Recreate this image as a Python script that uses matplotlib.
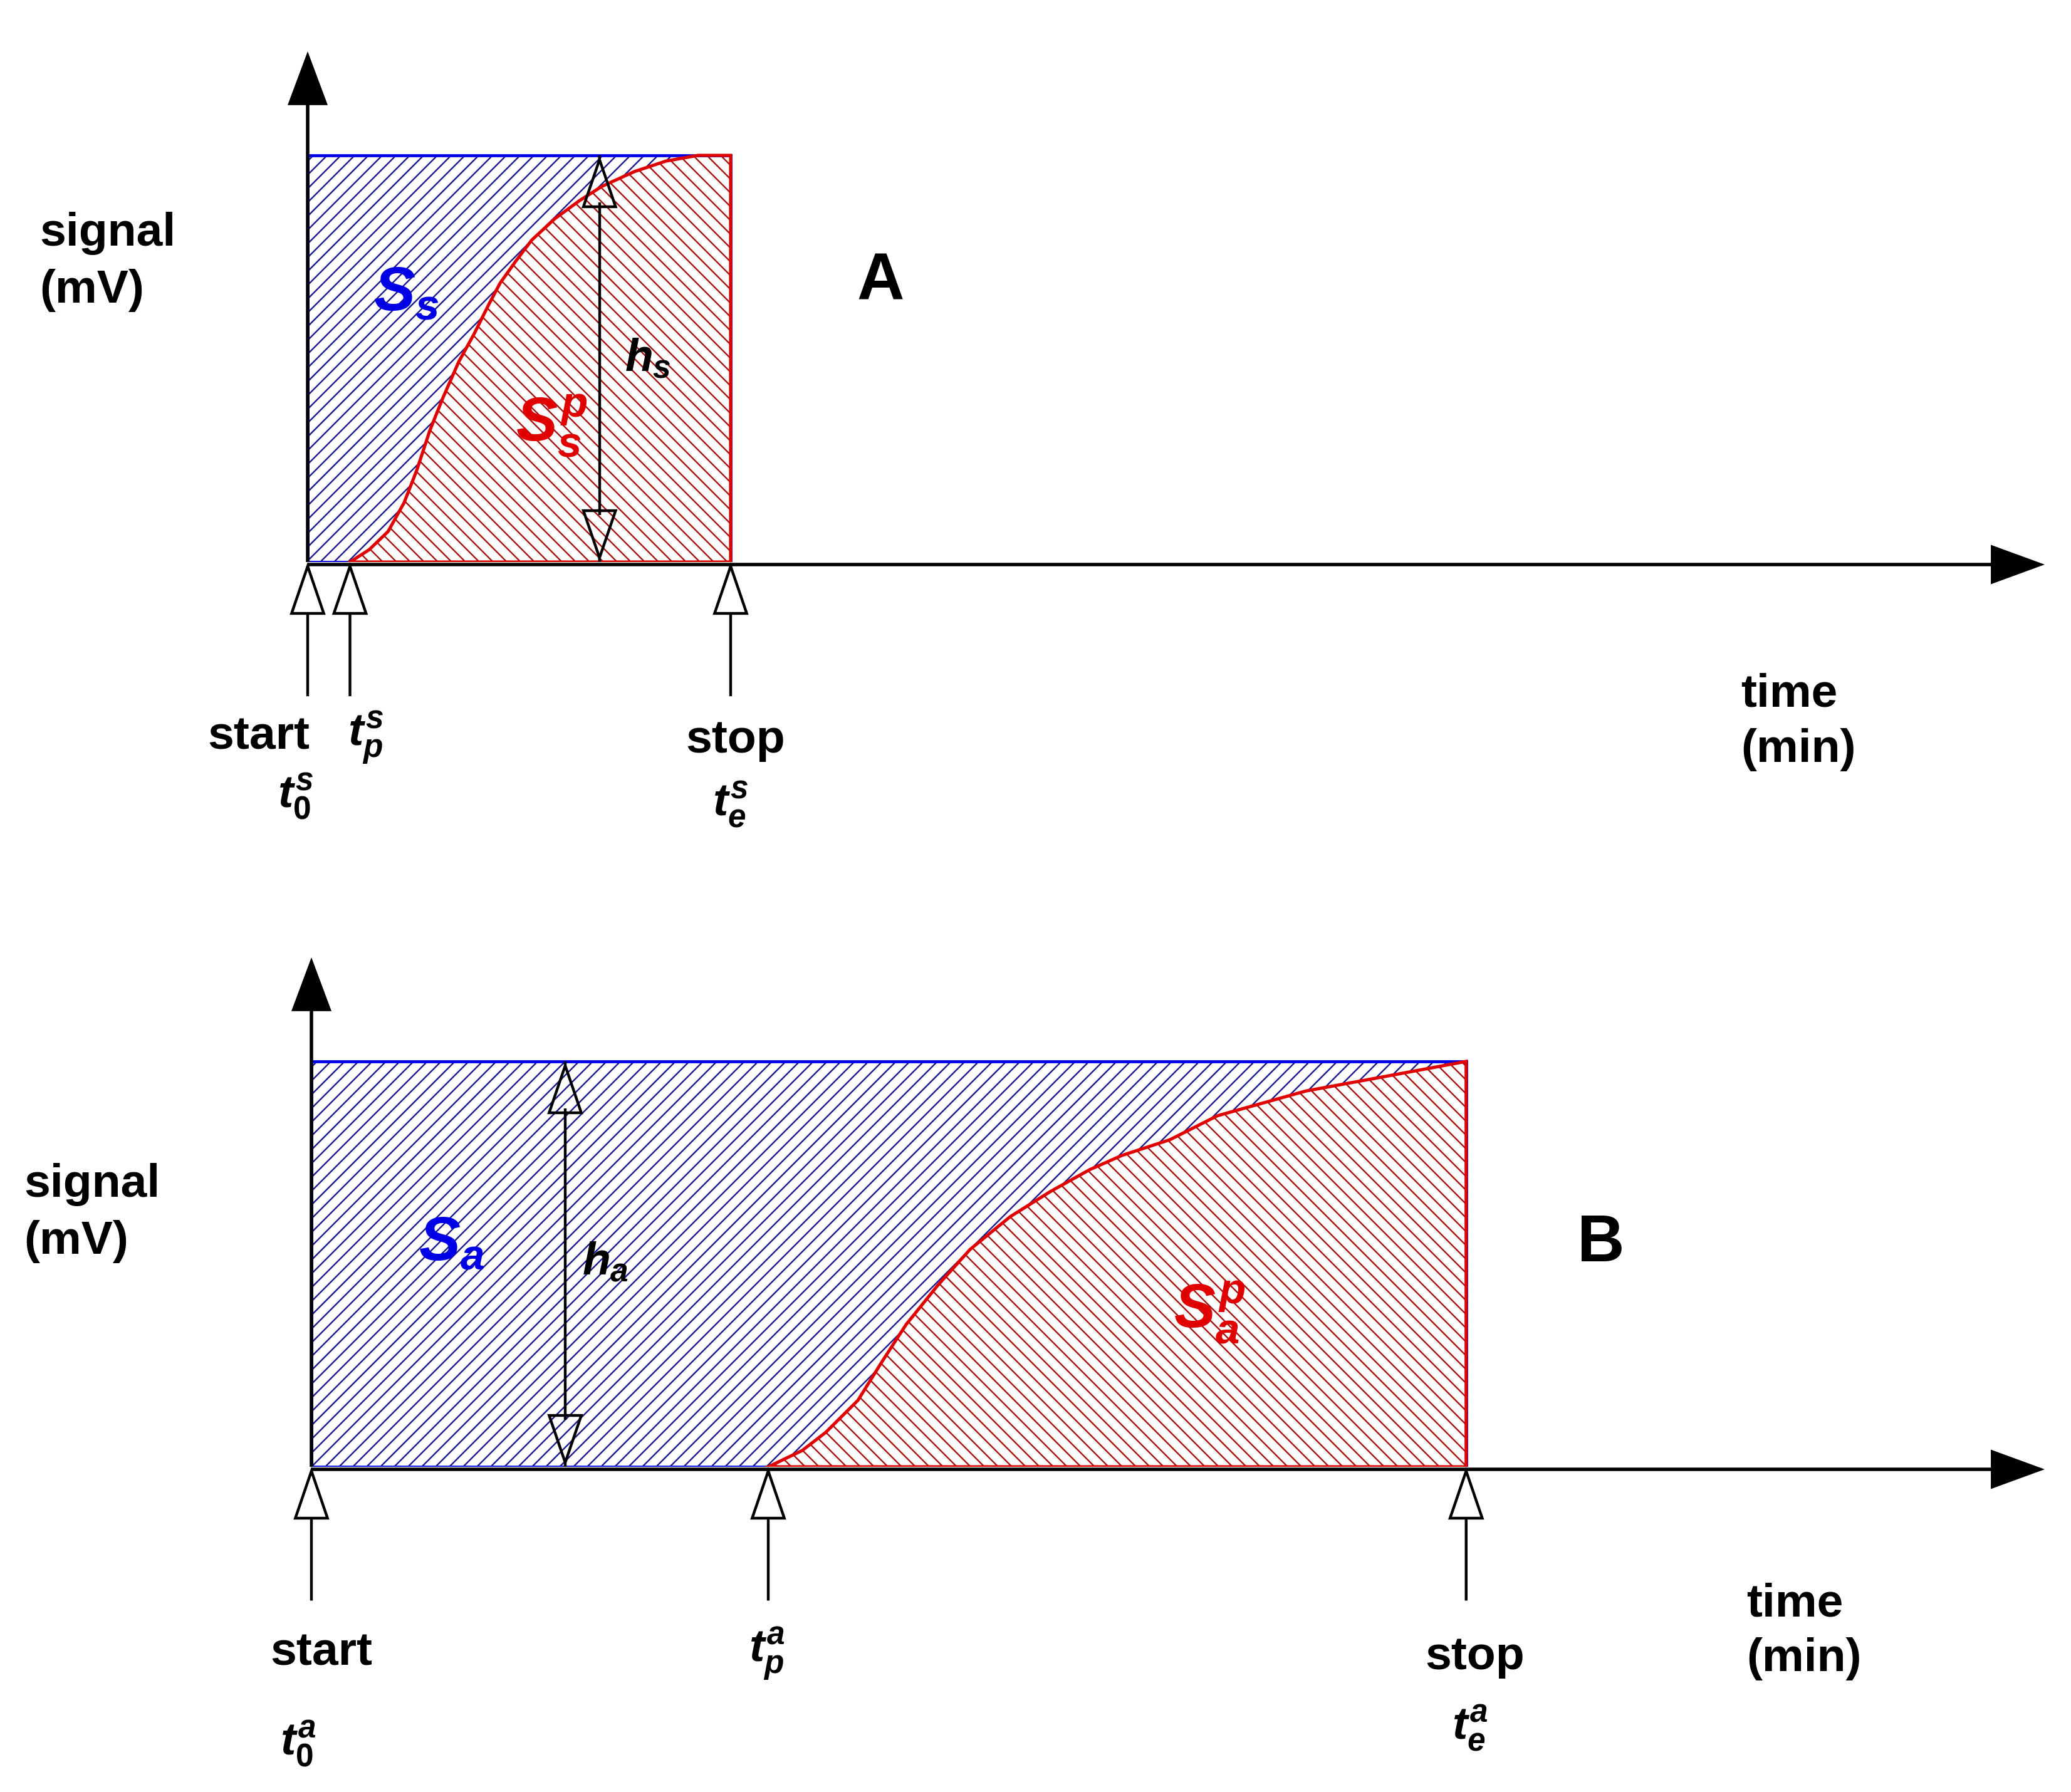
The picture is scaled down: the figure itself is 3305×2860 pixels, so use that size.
import matplotlib
matplotlib.use("Agg")
import matplotlib.pyplot as plt
import matplotlib.transforms as mtrans
from matplotlib.patches import Rectangle, Polygon, FancyArrowPatch

# ---------------- data (time in arbitrary minutes, signal normalised to h = 1) -------------
top_times = [0.0, 1.0, 10.0]          # t0, tp, te  (panel A)
top_curve_t = [1.0, 1.45, 1.90, 2.28, 2.58, 2.89, 3.19, 3.57, 3.94, 4.28, 4.55, 4.92,
               5.30, 5.84, 6.43, 6.96, 7.72, 8.47, 9.23, 10.0]
top_curve_s = [0.0, 0.03, 0.075, 0.146, 0.226, 0.324, 0.402, 0.492, 0.562, 0.633, 0.686,
               0.740, 0.792, 0.844, 0.889, 0.924, 0.960, 0.986, 1.0, 1.0]
top_h_time = 6.9

bot_times = [0.0, 10.8, 27.3]         # t0, tp, te  (panel B)
bot_curve_t = [10.8, 11.6, 12.16, 12.92, 13.5, 14.06, 14.81, 15.57, 16.52, 17.47, 18.4,
               19.16, 20.3, 21.42, 23.51, 25.39, 27.3]
bot_curve_s = [0.0, 0.04, 0.085, 0.164, 0.261, 0.351, 0.448, 0.536, 0.617, 0.679, 0.733,
               0.768, 0.807, 0.866, 0.927, 0.963, 1.0]
bot_h_time = 6.0

signal_height = 1.0

# ---------------- style ----------------
W, H, DPI = 3305, 2860, 132
plt.rcParams["font.family"] = ["Liberation Sans", "DejaVu Sans"]
plt.rcParams["mathtext.fontset"] = "custom"
plt.rcParams["mathtext.it"] = "Liberation Sans:italic:bold"
plt.rcParams["mathtext.rm"] = "Liberation Sans:bold"
plt.rcParams["mathtext.bf"] = "Liberation Sans:bold"
plt.rcParams["hatch.linewidth"] = 1.3

BLUE = "#0000e6"
BLUE_HATCH = "#1a1a8a"
RED = "#e00000"
RED_HATCH = "#a31515"

fig = plt.figure(figsize=(W / DPI, H / DPI), dpi=DPI)
fig.patch.set_facecolor("white")


def px(x, y):
    return x / W, 1 - y / H


def make_axes(x0, xtip, ybase, ytip, px_per_t, px_per_s):
    ax = fig.add_axes([x0 / W, 1 - ybase / H, (xtip - x0) / W, (ybase - ytip) / H])
    ax.set_xlim(0, (xtip - x0) / px_per_t)
    ax.set_ylim(0, (ybase - ytip) / px_per_s)
    ax.axis("off")
    return ax


def arrow(ax, p0, p1, hl, hw, lw, fc, z, transform=None):
    kw = dict(arrowstyle=f"-|>,head_length={hl},head_width={hw}", mutation_scale=1,
              lw=lw, fc=fc, ec="black", shrinkA=0, shrinkB=0, zorder=z, clip_on=False,
              joinstyle="miter", capstyle="butt")
    if transform is not None:
        kw["transform"] = transform
    a = FancyArrowPatch(p0, p1, **kw)
    ax.add_patch(a)


def panel(ax, times, ct, cs, h_t, px_per_s):
    t0, tp, te = times
    xmax = ax.get_xlim()[1]
    ymax = ax.get_ylim()[1]
    # blue rectangle (total area)
    ax.add_patch(Rectangle((t0, 0), te - t0, signal_height, fc="white", ec=BLUE_HATCH,
                           lw=0, hatch="//", zorder=1))
    # red area (under curve)
    verts = [(tp, 0)] + list(zip(ct, cs)) + [(te, 0)]
    ax.add_patch(Polygon(verts, closed=True, fc="white", ec=RED_HATCH, lw=0,
                         hatch="\\\\", zorder=2))
    ax.add_patch(Rectangle((t0, 0), te - t0, signal_height, fc="none", ec=BLUE,
                           lw=2.6, zorder=3, joinstyle="miter"))
    ax.add_patch(Polygon(verts, closed=True, fc="none", ec=RED, lw=2.8, zorder=4,
                         joinstyle="miter"))
    # axes with filled arrowheads
    down = ax.transData + mtrans.ScaledTranslation(0, -4 / DPI, fig.dpi_scale_trans)
    arrow(ax, (0, 0), (xmax, 0), 41, 15, 3.0, "black", 6, transform=down)
    arrow(ax, (0, 0), (0, ymax), 41, 15.3, 3.0, "black", 6)
    # hollow marker arrows below the axis
    for t in times:
        arrow(ax, (t, -0.33), (t, 0), 41, 14, 2.4, "white", 7)
    # double arrow for the height h
    hl = 75 / px_per_s
    ax.plot([h_t, h_t], [hl, signal_height - hl], color="black", lw=2.4, zorder=8,
            solid_capstyle="butt")
    arrow(ax, (h_t, signal_height - 1e-3), (h_t, signal_height), 41, 14, 2.4, "none", 8)
    arrow(ax, (h_t, 1e-3), (h_t, 0), 41, 14, 2.4, "none", 8)


PX_T = 67.5
ax_top = make_axes(491, 3263, 897, 82, PX_T, 649)
panel(ax_top, top_times, top_curve_t, top_curve_s, top_h_time, 649)
ax_bot = make_axes(497, 3263, 2341, 1528, PX_T, 647)
panel(ax_bot, bot_times, bot_curve_t, bot_curve_s, bot_h_time, 647)


def label(x, y, s, size, ha="left", color="black", weight="bold"):
    fig.text(*px(x, y), s, fontsize=size, ha=ha, va="baseline", color=color,
             fontweight=weight)


LAB = 41
# ---- panel A texts
label(63, 392, "signal", LAB)
label(63, 483, "(mV)", LAB)
label(1405, 478, "A", 57, ha="center")
label(596, 495, r"$S_s$", 54, color=BLUE)
label(997, 592, r"$h_s$", 40)
label(823, 704, r"$S_s^p$", 54, color=RED)
label(2778, 1127, "time", LAB)
label(2778, 1216, "(min)", LAB)
label(413, 1195, "start", LAB, ha="center")
label(555, 1190, r"$t_p^s$", 40)
label(1174, 1201, "stop", LAB, ha="center")
label(443, 1288, r"$t_\mathit{0}^s$", 40)
label(1137, 1301, r"$t_e^s$", 40)

# ---- panel B texts
label(38, 1910, "signal", LAB)
label(38, 2001, "(mV)", LAB)
label(2555, 2013, "B", 57, ha="center")
label(668, 2011, r"$S_a$", 54, color=BLUE)
label(929, 2034, r"$h_a$", 40)
label(1873, 2120, r"$S_a^p$", 54, color=RED)
label(2787, 2580, "time", LAB)
label(2787, 2667, "(min)", LAB)
label(513, 2657, "start", LAB, ha="center")
label(1195, 2652, r"$t_p^a$", 40)
label(2354, 2664, "stop", LAB, ha="center")
label(447, 2800, r"$t_\mathit{0}^a$", 40)
label(2317, 2775, r"$t_e^a$", 40)

fig.savefig("out.png", dpi=DPI, facecolor="white")
